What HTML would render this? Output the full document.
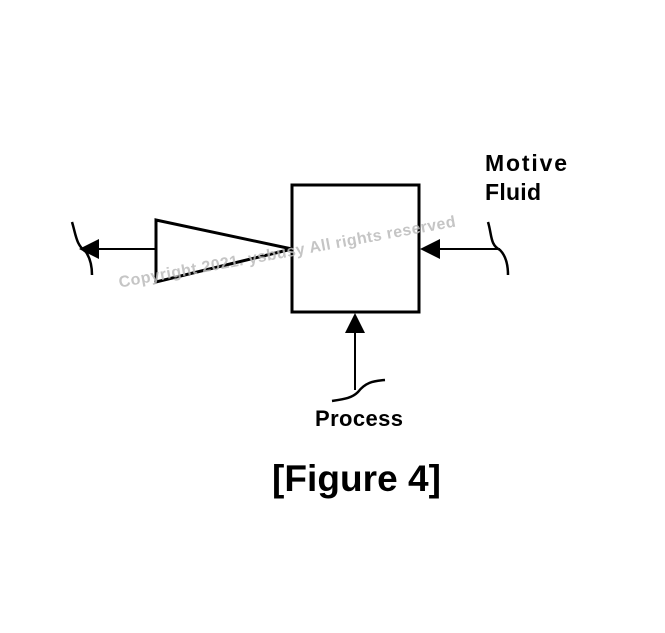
<!DOCTYPE html>
<html><head><style>
body{margin:0;background:#fff;width:665px;height:628px;overflow:hidden}
</style></head><body>
<svg width="665" height="628" xmlns="http://www.w3.org/2000/svg" font-family="Liberation Sans, sans-serif">
<rect x="292" y="185" width="127" height="127" fill="none" stroke="#000" stroke-width="3"/>
<polyline points="292,249 156,220 156,282 292,249" fill="none" stroke="#000" stroke-width="3"/>
<line x1="156" y1="249" x2="96" y2="249" stroke="#000" stroke-width="2"/>
<polygon points="79,249 99,239 99,259" fill="#000"/>
<path d="M72,222 C76,235 76,245 86,252 C90,258 92,265 92,275" fill="none" stroke="#000" stroke-width="2.5"/>
<line x1="438" y1="249" x2="500" y2="249" stroke="#000" stroke-width="2"/>
<polygon points="420,249 440,239 440,259" fill="#000"/>
<path d="M488,222 C492,235 490,245 500,250 C506,256 508,265 508,275" fill="none" stroke="#000" stroke-width="2.5"/>
<line x1="355" y1="330" x2="355" y2="390" stroke="#000" stroke-width="2"/>
<polygon points="355,313 345,333 365,333" fill="#000"/>
<path d="M332,401 C345,399 352,398 358,392 C365,383 372,381 385,380" fill="none" stroke="#000" stroke-width="2.5"/>
<text x="485" y="171" font-size="23" font-weight="bold" textLength="82">Motive</text>
<text x="485" y="200" font-size="23" font-weight="bold" textLength="56">Fluid</text>
<text x="315" y="426" font-size="22" font-weight="bold" textLength="88">Process</text>
<text x="272" y="491" font-size="37" font-weight="bold" textLength="169">[Figure 4]</text>
<text x="288" y="257" font-size="16" font-weight="bold" fill="#bbb" opacity="0.85" text-anchor="middle" textLength="342" transform="rotate(-10.3 288 257)">Copyright 2021. ysbusy All rights reserved</text>
</svg>
</body></html>
